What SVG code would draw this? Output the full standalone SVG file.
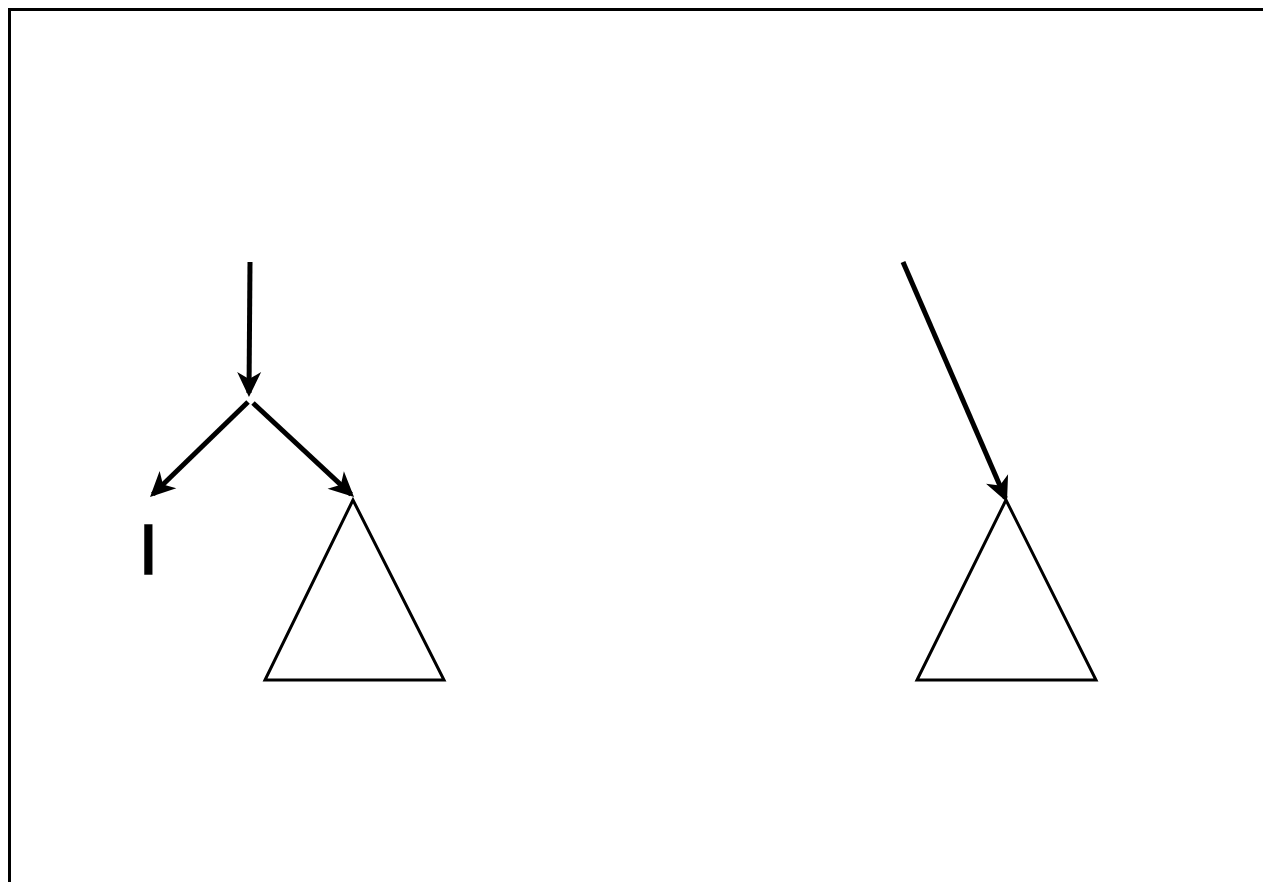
<svg xmlns="http://www.w3.org/2000/svg" width="1263" height="882" viewBox="0 0 1263 882">
<style>
.frame{fill:none;stroke:#000;stroke-width:3}
.edge{fill:none;stroke:#000;stroke-width:5}
.tri{fill:#fff;stroke:#000;stroke-width:3;stroke-linejoin:miter}
.lbl{font-family:"Liberation Sans",Arial,sans-serif;font-size:71px;fill:#000;stroke:#000;stroke-width:1.6}
</style>
<defs>
<marker id="ah" markerUnits="userSpaceOnUse" viewBox="-24 -13 30 26" refX="0" refY="0" markerWidth="30" markerHeight="26" orient="auto">
<path d="M4,0 L-21,-12 L-14,0 L-21,12 Z" fill="#000"/>
</marker>
</defs>
<rect class="frame" x="9.5" y="9.5" width="1300" height="900"/>
<g id="tree1">
<polygon class="tri" points="353,500 265,680 444,680"/>
</g>
<g id="tree2">
<polygon class="tri" points="1006,500 917,680 1096,680"/>
</g>
<g id="leaf">
<text class="lbl" x="138.5" y="574">I</text>
</g>
<g id="connectors">
<line class="edge" x1="250" y1="262" x2="249" y2="393" marker-end="url(#ah)"/>
<line class="edge" x1="248" y1="402" x2="152.9" y2="494.2" marker-end="url(#ah)"/>
<line class="edge" x1="253" y1="403" x2="351.1" y2="494.3" marker-end="url(#ah)"/>
<line class="edge" x1="903" y1="262" x2="1005.4" y2="498.3" marker-end="url(#ah)"/>
</g>
</svg>
